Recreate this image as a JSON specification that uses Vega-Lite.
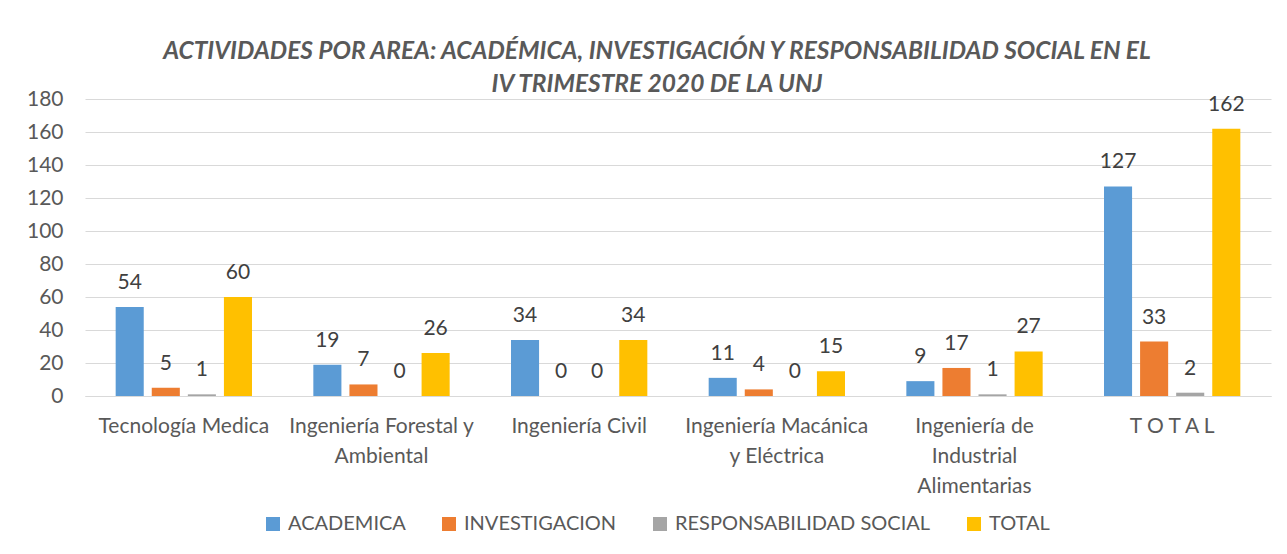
{
  "$schema": "https://vega.github.io/schema/vega-lite/v6.json",
  "autosize": {"type": "none"},
  "padding": {"left": 85, "top": 99, "right": 16, "bottom": 158},
  "width": 1186,
  "height": 297,
  "background": "white",
  "title": {
    "text": ["ACTIVIDADES POR AREA: ACADÉMICA, INVESTIGACIÓN Y RESPONSABILIDAD SOCIAL EN EL", "IV TRIMESTRE 2020 DE LA UNJ"],
    "font": "Lato",
    "fontSize": 24.5,
    "fontStyle": "italic",
    "fontWeight": "bold",
    "color": "#595959",
    "anchor": "middle",
    "dx": -21,
    "dy": 9,
    "offset": 0,
    "lineHeight": 33
  },
  "data": {
    "values": [
      {"area": "Tecnología Medica", "serie": "ACADEMICA", "valor": 54},
      {"area": "Tecnología Medica", "serie": "INVESTIGACION", "valor": 5},
      {"area": "Tecnología Medica", "serie": "RESPONSABILIDAD SOCIAL", "valor": 1},
      {"area": "Tecnología Medica", "serie": "TOTAL", "valor": 60},
      {"area": "Ingeniería Forestal y|Ambiental", "serie": "ACADEMICA", "valor": 19},
      {"area": "Ingeniería Forestal y|Ambiental", "serie": "INVESTIGACION", "valor": 7},
      {"area": "Ingeniería Forestal y|Ambiental", "serie": "RESPONSABILIDAD SOCIAL", "valor": 0},
      {"area": "Ingeniería Forestal y|Ambiental", "serie": "TOTAL", "valor": 26},
      {"area": "Ingeniería Civil", "serie": "ACADEMICA", "valor": 34},
      {"area": "Ingeniería Civil", "serie": "INVESTIGACION", "valor": 0},
      {"area": "Ingeniería Civil", "serie": "RESPONSABILIDAD SOCIAL", "valor": 0},
      {"area": "Ingeniería Civil", "serie": "TOTAL", "valor": 34},
      {"area": "Ingeniería Macánica|y Eléctrica", "serie": "ACADEMICA", "valor": 11},
      {"area": "Ingeniería Macánica|y Eléctrica", "serie": "INVESTIGACION", "valor": 4},
      {"area": "Ingeniería Macánica|y Eléctrica", "serie": "RESPONSABILIDAD SOCIAL", "valor": 0},
      {"area": "Ingeniería Macánica|y Eléctrica", "serie": "TOTAL", "valor": 15},
      {"area": "Ingeniería de|Industrial|Alimentarias", "serie": "ACADEMICA", "valor": 9},
      {"area": "Ingeniería de|Industrial|Alimentarias", "serie": "INVESTIGACION", "valor": 17},
      {"area": "Ingeniería de|Industrial|Alimentarias", "serie": "RESPONSABILIDAD SOCIAL", "valor": 1},
      {"area": "Ingeniería de|Industrial|Alimentarias", "serie": "TOTAL", "valor": 27},
      {"area": "T O T A L", "serie": "ACADEMICA", "valor": 127},
      {"area": "T O T A L", "serie": "INVESTIGACION", "valor": 33},
      {"area": "T O T A L", "serie": "RESPONSABILIDAD SOCIAL", "valor": 2},
      {"area": "T O T A L", "serie": "TOTAL", "valor": 162}
    ]
  },
  "encoding": {
    "x": {
      "field": "area",
      "type": "nominal",
      "sort": null,
      "title": null,
      "scale": {"paddingInner": 0, "paddingOuter": 0},
      "axis": {
        "labelExpr": "split(datum.value, '|')",
        "labelAngle": 0,
        "labelFont": "Lato",
        "labelFontSize": 21,
        "labelColor": "#595959",
        "labelLineHeight": 30,
        "labelPadding": 19,
        "labelLimit": 0,
        "ticks": false,
        "domainColor": "#D9D9D9",
        "domainWidth": 1,
        "grid": false
      }
    },
    "xOffset": {
      "field": "serie",
      "type": "nominal",
      "sort": ["ACADEMICA", "INVESTIGACION", "RESPONSABILIDAD SOCIAL", "TOTAL"],
      "scale": {"paddingInner": 0.222, "paddingOuter": 0.85}
    },
    "y": {
      "field": "valor",
      "type": "quantitative",
      "title": null,
      "scale": {"domain": [0, 180], "nice": false},
      "axis": {
        "values": [0, 20, 40, 60, 80, 100, 120, 140, 160, 180],
        "labelFont": "Lato",
        "labelFontSize": 21,
        "labelColor": "#595959",
        "labelPadding": 22,
        "ticks": false,
        "domain": false,
        "gridColor": "#D9D9D9",
        "gridWidth": 1
      }
    }
  },
  "layer": [
    {
      "mark": {"type": "bar"},
      "encoding": {
        "color": {
          "field": "serie",
          "type": "nominal",
          "sort": ["ACADEMICA", "INVESTIGACION", "RESPONSABILIDAD SOCIAL", "TOTAL"],
          "scale": {
            "domain": ["ACADEMICA", "INVESTIGACION", "RESPONSABILIDAD SOCIAL", "TOTAL"],
            "range": ["#5B9BD5", "#ED7D31", "#A5A5A5", "#FFC000"]
          },
          "legend": {
            "title": null,
            "orient": "none",
            "direction": "horizontal",
            "legendX": 178,
            "legendY": 415,
            "symbolType": "square",
            "symbolSize": 196,
            "symbolStrokeWidth": 0,
            "labelFont": "Lato",
            "labelFontSize": 20,
            "labelColor": "#595959",
            "labelOffset": 5,
            "labelLimit": 0,
            "columnPadding": 33
          }
        }
      }
    },
    {
      "mark": {"type": "text", "baseline": "alphabetic", "dy": -18, "font": "Lato", "fontSize": 21, "color": "#404040"},
      "encoding": {
        "text": {"field": "valor", "type": "quantitative"}
      }
    }
  ],
  "config": {
    "view": {"stroke": null}
  }
}
